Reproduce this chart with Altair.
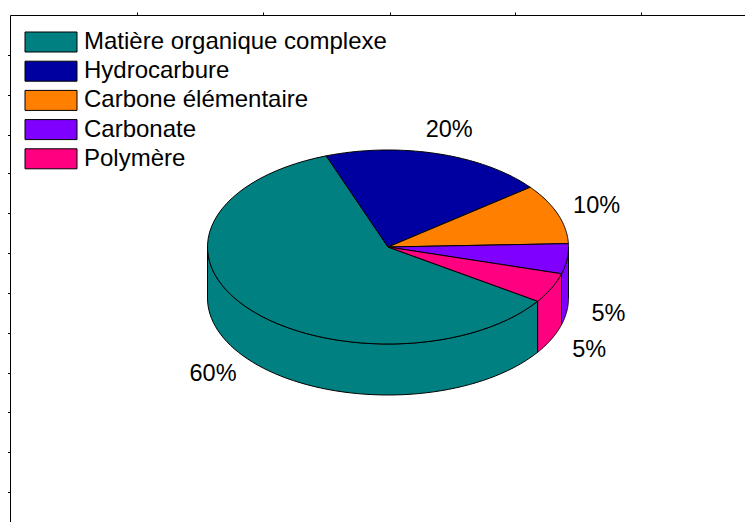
import altair as alt
import pandas as pd

# ---- data ----
categories = ["Matière organique complexe", "Hydrocarbure", "Carbone élémentaire", "Carbonate", "Polymère"]
values = [60, 20, 10, 5, 5]
colors = ["#008080", "#0000A0", "#FF8000", "#8000FF", "#FF0080"]

df = pd.DataFrame({"cat": categories, "value": values, "idx": list(range(len(categories)))})

# ---- geometry (pixels) ----
A, B, DEPTH, START, N = 180.5, 97, 51, 124, 60
W, H = 735, 507
XDOM = [-378, 357]
YDOM = [-275, 232]
FONT = "Liberation Sans"

xscale = alt.Scale(domain=XDOM, nice=False, zero=False)
yscale = alt.Scale(domain=YDOM, nice=False, zero=False)
cscale = alt.Scale(domain=categories, range=colors)

x_axis = alt.Axis(orient="top", values=[-251, -125, 2, 127, 253], labels=False, grid=False,
                  title=None, tickSize=3, tickColor="black", domainColor="black", domainWidth=1)
y_axis = alt.Axis(orient="left", values=[192, 152, 112, 74, 34, -6, -46, -86, -126, -165, -205, -245],
                  labels=False, grid=False, title=None, tickSize=3, tickColor="black",
                  domainColor="black", domainWidth=1)

legend = alt.Legend(
    orient="none", legendX=29, legendY=15, title=None, padding=0,
    symbolType="M-2.6,-1H2.6V1H-2.6Z", symbolSize=400, symbolStrokeColor="black",
    symbolStrokeWidth=1, symbolOpacity=1, labelFont=FONT, labelFontSize=24,
    labelColor="black", labelOffset=21, rowPadding=5.2, labelLimit=500,
)

base = alt.Chart(df).transform_window(
    cum="sum(value)", sort=[alt.SortField("idx")], frame=[None, 0]
).transform_joinaggregate(total="sum(value)").transform_calculate(
    a0=f"{START} + (datum.cum - datum.value) / datum.total * 360",
    a1=f"{START} + datum.cum / datum.total * 360",
)

# side walls (front half only: 90..270 degrees, in either turn)
side = base.transform_calculate(
    win="sequence(0, 2)"
).transform_flatten(["win"]).transform_calculate(
    s0="max(datum.a0, 90 + 360 * datum.win)",
    s1="min(datum.a1, 270 + 360 * datum.win)",
    key="datum.cat + '|' + datum.win",
).transform_filter("datum.s0 < datum.s1").transform_calculate(
    pts=f"sequence(0, {2 * N + 2})"
).transform_flatten(["pts"]).transform_calculate(
    t=f"datum.pts <= {N} ? datum.pts / {N} : ({2 * N + 1} - datum.pts) / {N}"
).transform_calculate(
    th="(datum.s0 + (datum.s1 - datum.s0) * datum.t) * PI / 180"
).transform_calculate(
    px=f"{A} * sin(datum.th)",
    py=f"{B} * cos(datum.th) - (datum.pts <= {N} ? 0 : {DEPTH})",
).mark_line(interpolate="linear-closed", stroke="black", strokeWidth=1, strokeJoin="round").encode(
    x=alt.X("px:Q", scale=xscale, axis=x_axis),
    y=alt.Y("py:Q", scale=yscale, axis=y_axis),
    fill=alt.Fill("cat:N", scale=cscale, legend=legend),
    detail="key:N",
    order="pts:Q",
)

# top faces
top = base.transform_calculate(
    pts=f"sequence(-1, {N + 1})"
).transform_flatten(["pts"]).transform_calculate(
    th=f"(datum.a0 + (datum.a1 - datum.a0) * datum.pts / {N}) * PI / 180"
).transform_calculate(
    px=f"datum.pts < 0 ? 0 : {A} * sin(datum.th)",
    py=f"datum.pts < 0 ? 0 : {B} * cos(datum.th)",
).mark_line(interpolate="linear-closed", stroke="black", strokeWidth=1, strokeJoin="round").encode(
    x=alt.X("px:Q", scale=xscale, axis=x_axis),
    y=alt.Y("py:Q", scale=yscale, axis=y_axis),
    fill=alt.Fill("cat:N", scale=cscale, legend=legend),
    detail="cat:N",
    order="pts:Q",
)

labels = base.transform_calculate(
    th="(datum.a0 + datum.a1) / 2 * PI / 180"
).transform_calculate(
    lx=f"1.23 * {A} * sin(datum.th)",
    ly=f"1.25 * {B} * cos(datum.th) - (cos(datum.th) < 0 ? {DEPTH + 1} : 0)",
    lab="datum.value + '%'",
).mark_text(font=FONT, fontSize=23.5, color="black").encode(
    x=alt.X("lx:Q", scale=xscale, axis=x_axis),
    y=alt.Y("ly:Q", scale=yscale, axis=y_axis),
    text="lab:N",
)

chart = alt.layer(side, top, labels).properties(
    width=W, height=H,
    padding={"left": 2, "top": 7, "right": 0, "bottom": 0},
    autosize=alt.AutoSizeParams(type="none"),
).configure(background="white").configure_view(stroke="transparent", strokeWidth=0)

chart.save("out.html", embed_options={"renderer": "svg", "actions": False})
